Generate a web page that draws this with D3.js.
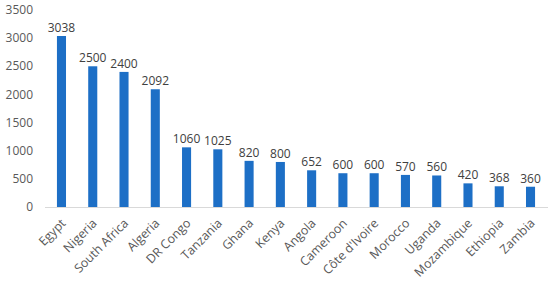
<!DOCTYPE html>
<meta charset="utf-8">
<style>
  body { margin: 0; background: #fff; }
  svg { font-family: "Open Sans", sans-serif; }
</style>
<svg width="550" height="282"></svg>
<script src="https://d3js.org/d3.v7.min.js"></script>
<script>
var countries = ["Egypt", "Nigeria", "South Africa", "Algeria", "DR Congo", "Tanzania", "Ghana", "Kenya",
  "Angola", "Cameroon", "Côte d'Ivoire", "Morocco", "Uganda", "Mozambique", "Ethiopia", "Zambia"];
var values = [3038, 2500, 2400, 2092, 1060, 1025, 820, 800, 652, 600, 600, 570, 560, 420, 368, 360];
var yTicks = [0, 500, 1000, 1500, 2000, 2500, 3000, 3500];

var svg = d3.select("svg");

var x = d3.scaleBand()
    .domain(countries)
    .range([46, 546])
    .paddingInner(0.71)
    .paddingOuter(0.35);

var y = d3.scaleLinear()
    .domain([0, 3500])
    .range([207, 10]);

// baseline
svg.append("line")
    .attr("x1", 45).attr("x2", 548)
    .attr("y1", y(0) + 0.5).attr("y2", y(0) + 0.5)
    .attr("stroke", "#d9d9d9");

// y labels
svg.selectAll(".ytick")
  .data(yTicks)
  .enter().append("text")
    .attr("class", "ytick")
    .attr("x", 33)
    .attr("y", function(d) { return y(d); })
    .attr("dy", "0.35em")
    .attr("text-anchor", "end")
    .attr("font-size", "12px")
    .attr("fill", "#595959")
    .text(function(d) { return d; });

var data = countries.map(function(c, i) { return {name: c, value: values[i]}; });

svg.selectAll(".bar")
  .data(data)
  .enter().append("rect")
    .attr("class", "bar")
    .attr("x", function(d) { return x(d.name); })
    .attr("width", x.bandwidth())
    .attr("y", function(d) { return y(d.value); })
    .attr("height", function(d) { return y(0) - y(d.value); })
    .attr("fill", "#1d6fc6");

svg.selectAll(".val")
  .data(data)
  .enter().append("text")
    .attr("class", "val")
    .attr("x", function(d) { return x(d.name) + x.bandwidth() / 2; })
    .attr("y", function(d) { return y(d.value) - 4; })
    .attr("text-anchor", "middle")
    .attr("font-size", "12px")
    .attr("fill", "#404040")
    .text(function(d) { return d.value; });

svg.selectAll(".xlab")
  .data(countries)
  .enter().append("text")
    .attr("class", "xlab")
    .attr("transform", function(d) {
      return "translate(" + (x(d) + x.bandwidth() / 2 + 5) + "," + (y(0) + 17) + ") rotate(-45)";
    })
    .attr("text-anchor", "end")
    .attr("font-size", "12.4px")
    .attr("fill", "#595959")
    .text(function(d) { return d; });
</script>
